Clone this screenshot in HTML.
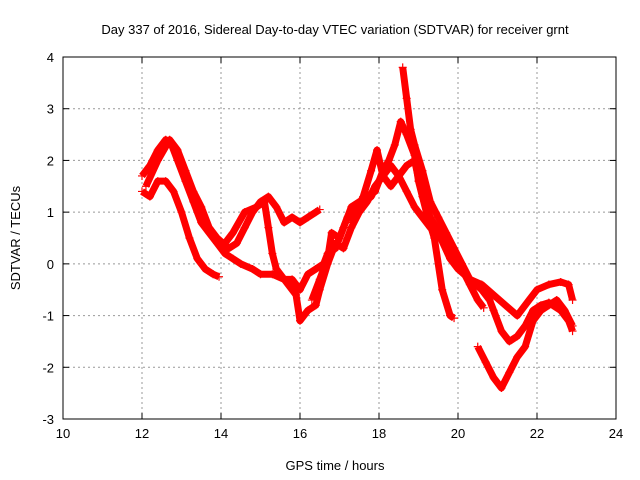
<!DOCTYPE html>
<html><head><meta charset="utf-8"><style>
body{margin:0;background:#fff}
svg{display:block;font-family:"Liberation Sans",sans-serif}
</style></head><body>
<svg id="chart" width="640" height="480">
<text x="335" y="34" text-anchor="middle" font-size="13">Day 337 of 2016, Sidereal Day-to-day VTEC variation (SDTVAR) for receiver grnt</text>
<text x="335" y="470" text-anchor="middle" font-size="13">GPS time / hours</text>
<text transform="translate(20,238) rotate(-90)" text-anchor="middle" font-size="13">SDTVAR / TECUs</text>
<g id="grid"></g><g id="marks"></g>
<rect x="63" y="57" width="553" height="362" fill="none" stroke="#000"/>
</svg>
<script>
const xTicks=[10,12,14,16,18,20,22,24];
const yTicks=[-3,-2,-1,0,1,2,3,4];
const t1x=[12.0,12.2,12.4,12.6,12.75,12.9,13.1,13.3,13.5,13.7,13.9,14.1,14.3,14.5,14.8,15.0,15.3,15.6,15.9,16.0,16.2,16.4,16.5,16.7,16.9,17.1,17.3,17.5,17.7,17.9,18.1,18.3,18.5,18.7,18.9,19.1,19.3,19.5,19.8,20.0,20.3,20.6,20.9,21.2,21.5,21.8,22.0,22.3,22.6,22.8,22.9];
const t1y=[1.7,1.9,2.2,2.4,2.3,2.0,1.6,1.2,0.8,0.6,0.4,0.2,0.1,0.0,-0.1,-0.2,-0.2,-0.3,-0.6,-1.1,-0.9,-0.8,-0.5,0.0,0.4,0.3,0.7,1.0,1.2,1.5,1.7,1.9,1.7,1.4,1.1,0.9,0.7,0.6,0.1,-0.1,-0.3,-0.4,-0.6,-0.8,-1.0,-0.7,-0.5,-0.4,-0.35,-0.4,-0.7];
const t2x=[12.0,12.2,12.4,12.6,12.8,13.0,13.2,13.4,13.6,13.8,13.95];
const t2y=[1.4,1.3,1.6,1.6,1.4,1.0,0.5,0.1,-0.1,-0.2,-0.25];
const t3x=[12.1,12.4,12.7,12.9,13.1,13.3,13.5,13.7,13.9,14.2,14.4,14.6,14.8,15.0,15.2,15.4,15.6,15.8,16.0,16.2,16.4,16.5];
const t3y=[1.5,2.0,2.4,2.2,1.8,1.4,1.1,0.7,0.5,0.3,0.4,0.7,1.0,1.2,1.3,1.1,0.8,0.9,0.8,0.9,1.0,1.05];
const t4x=[14.0,14.3,14.6,14.9,15.1,15.2,15.3,15.4,15.6,15.8,16.0,16.2,16.4,16.6,16.7,16.9,17.1,17.3,17.5,17.7,17.9,18.1,18.25,18.4,18.55,18.7,18.9,19.0,19.2,19.4,19.6,19.8,19.9];
const t4y=[0.3,0.6,1.0,1.1,1.2,0.7,0.2,-0.1,-0.3,-0.3,-0.5,-0.2,-0.1,0.0,0.2,0.3,0.7,1.1,1.2,1.3,1.4,1.8,2.0,2.3,2.75,2.5,2.1,1.6,1.0,0.5,-0.5,-1.0,-1.05];
const t5x=[18.6,18.7,18.8,18.9,19.1,19.3,19.5,19.7,19.9,20.1,20.3,20.6,20.8,20.9,21.1,21.3,21.5,21.7,21.9,22.1,22.3,22.6,22.8,22.9];
const t5y=[3.8,3.2,2.6,2.3,1.8,1.2,0.9,0.6,0.3,0.0,-0.3,-0.5,-0.7,-0.9,-1.3,-1.5,-1.4,-1.2,-0.9,-0.8,-0.75,-0.9,-1.1,-1.3];
const t6x=[17.3,17.6,17.8,17.95,18.1,18.3,18.5,18.7,18.9,19.1,19.3,19.6,19.9,20.1,20.3,20.5,20.65];
const t6y=[0.8,1.3,1.8,2.2,1.7,1.5,1.7,1.9,2.0,1.3,0.9,0.5,0.2,-0.1,-0.4,-0.7,-0.85];
const t7x=[20.5,20.7,20.9,21.1,21.3,21.5,21.7,21.9,22.1,22.3,22.5,22.7,22.9];
const t7y=[-1.6,-1.9,-2.2,-2.4,-2.1,-1.8,-1.6,-1.1,-0.9,-0.8,-0.7,-0.9,-1.2];
const t8x=[16.3,16.5,16.7,16.8,17.0,17.2,17.5,17.8,18.0];
const t8y=[-0.7,-0.3,0.1,0.6,0.5,0.9,1.1,1.3,1.6];
const tracks=[[t1x,t1y],[t2x,t2y],[t3x,t3y],[t4x,t4y],[t5x,t5y],[t6x,t6y],[t7x,t7y],[t8x,t8y]];
const X=v=>63+(v-10)*(553/14), Y=v=>419-(v+3)*(362/7);
const NS="http://www.w3.org/2000/svg";
const grid=document.getElementById('grid'), marks=document.getElementById('marks');
function mk(tag,a,p){const e=document.createElementNS(NS,tag);for(const k in a)e.setAttribute(k,a[k]);p.appendChild(e);return e;}
xTicks.forEach(t=>{const x=X(t);
 if(t>10&&t<24){const l=mk('line',{x1:x,x2:x,y1:57,y2:419,stroke:'#999','stroke-dasharray':'2,3'},grid);
 
 }
 mk('line',{x1:x,x2:x,y1:419,y2:413,stroke:'#000'},grid);mk('line',{x1:x,x2:x,y1:57,y2:63,stroke:'#000'},grid);
 const tx=mk('text',{x:x,y:438,'text-anchor':'middle','font-size':13},grid);tx.textContent=t;
 
 });
yTicks.forEach(t=>{const y=Y(t);
 if(t>-3&&t<4){const l=mk('line',{x1:63,x2:616,y1:y,y2:y,stroke:'#999','stroke-dasharray':'2,3'},grid);
 
 }
 mk('line',{x1:63,x2:69,y1:y,y2:y,stroke:'#000'},grid);mk('line',{x1:616,x2:610,y1:y,y2:y,stroke:'#000'},grid);
 const tx=mk('text',{x:54,y:y+5,'text-anchor':'end','font-size':13},grid);tx.textContent=t;
 
 });
tracks.forEach(([xs,ys],i)=>{
 const g=mk('g',{},marks);
 
 
 mk('polyline',{points:xs.map((v,j)=>X(v)+','+Y(ys[j])).join(' '),fill:'none',stroke:'#f00','stroke-width':7,'stroke-linejoin':'round'},g);
 xs.forEach((v,j)=>{const x=X(v),y=Y(ys[j]);
  mk('path',{d:`M${x-4},${y}H${x+4}M${x},${y-4}V${y+4}`,stroke:'#f00','stroke-width':1.2},g);});
});
</script>
</body></html>
